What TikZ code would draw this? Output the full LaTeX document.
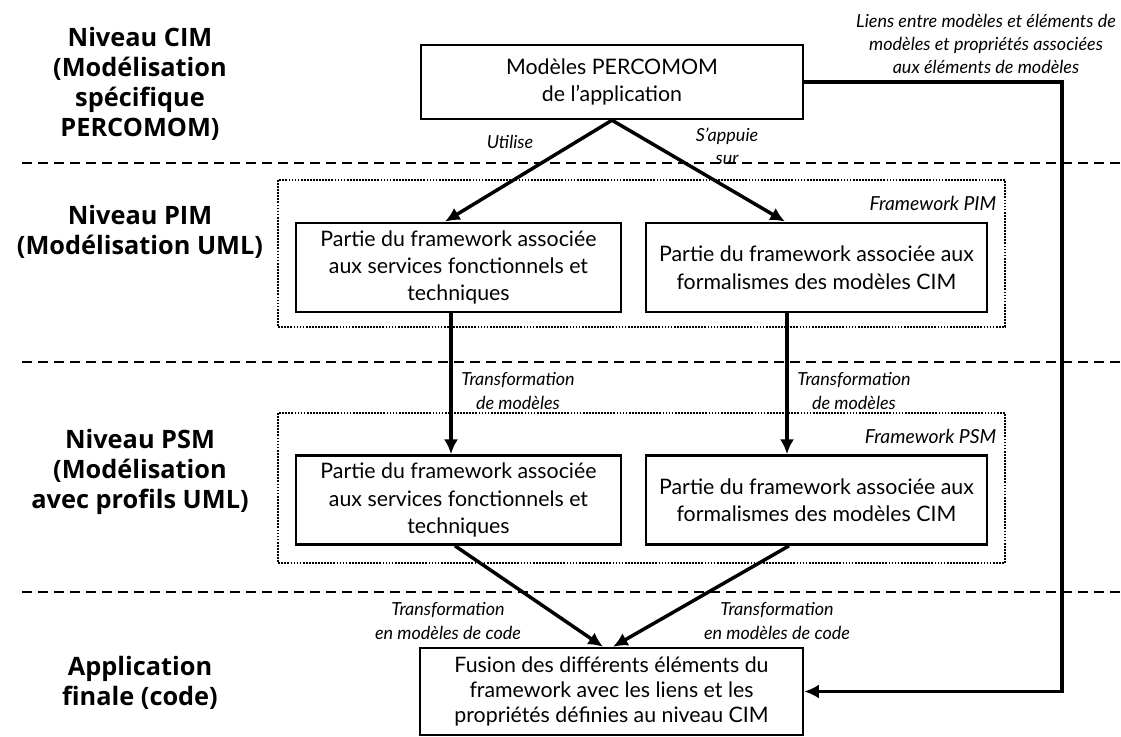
\documentclass[tikz,border=0pt]{standalone}
\usepackage{fontspec}
\setmainfont{Lato}
\newfontfamily\levelfont{Open Sans}
\usetikzlibrary{arrows.meta, calc}
\tikzset{
  levelbox/.style={
    rectangle,
    draw=black,
    line width=1.8pt,
    align=center,
    inner sep=0pt,
    font=\fontsize{16}{20.6}\selectfont
  },
  cimbox/.style={levelbox, minimum width=286.5pt, minimum height=55.5pt},
  leftbox/.style={levelbox, minimum width=243.75pt, minimum height=67pt},
  rightbox/.style={levelbox, minimum width=255.75pt, minimum height=67pt},
  codebox/.style={levelbox, minimum width=287.25pt, minimum height=65.25pt, font=\fontsize{16}{18.9}\selectfont},
  levelname/.style={font=\levelfont\fontsize{19}{22.5}\selectfont\bfseries, align=center},
  note/.style={font=\fontsize{13.5}{17.4}\selectfont\itshape, align=center},
  frametag/.style={font=\fontsize{14.5}{17}\selectfont\itshape, anchor=east},
  flow/.style={-{Latex[length=11pt, width=10.5pt]}, line width=2.6pt},
  separator/.style={dash pattern=on 7.5pt off 4.5pt, line width=2pt},
  dotframe/.style={densely dotted, line width=1.3pt}
}

\begin{document}
\begin{tikzpicture}[x=0.75pt, y=-0.75pt]
\useasboundingbox (0,0) rectangle (1121,737);

% Level names.
\node[levelname] (cimname) at (140,84) {Niveau CIM\\(Modélisation\\spécifique\\PERCOMOM)};
\node[levelname] (pimname) at (140,232) {Niveau PIM\\(Modélisation UML)};
\node[levelname] (psmname) at (140,472) {Niveau PSM\\(Modélisation\\avec profils UML)};
\node[levelname] (appname) at (140,683) {Application\\finale (code)};

% Level separators.
\draw[separator] (22,163) -- (1121,163);
\draw[separator] (22,362) -- (1121,362);
\draw[separator] (22,592) -- (1121,592);

% Framework frames.
\draw[dotframe] (278,180) rectangle (1005,327);
\draw[dotframe] (278,413) rectangle (1005,563);
\node[frametag] (pimtag) at (1001,203) {Framework PIM};
\node[frametag] (psmtag) at (1001,436) {Framework PSM};

% CIM level.
\node[cimbox] (cim) at (612,82) {Modèles PERCOMOM\\de l’application};
\node[note] (links) at (986,44) {Liens entre modèles et éléments de\\modèles et propriétés associées\\aux éléments de modèles};

% PIM level.
\node[leftbox] (pimL) at (458.5,267.5) {Partie du framework associée\\aux services fonctionnels et\\techniques};
\node[rightbox] (pimR) at (816.5,267.5) {Partie du framework associée aux\\formalismes des modèles CIM};

% PSM level.
\node[leftbox] (psmL) at (458.5,500) {Partie du framework associée\\aux services fonctionnels et\\techniques};
\node[rightbox] (psmR) at (816.5,500) {Partie du framework associée aux\\formalismes des modèles CIM};

% Code level.
\node[codebox] (code) at (611.5,691.5) {Fusion des différents éléments du\\framework avec les liens et les\\propriétés définies au niveau CIM};

% Flow labels.
\node[note] (uses) at (510,142) {Utilise};
\node[note] (relies) at (727,146) {S’appuie\\sur};
\node[note] (transL) at (518,391) {Transformation\\de modèles};
\node[note] (transR) at (854,391) {Transformation\\de modèles};
\node[note] (genL) at (448,621) {Transformation\\en modèles de code};
\node[note] (genR) at (777,621) {Transformation\\en modèles de code};

% Main flow.
\draw[flow] (cim.south) -- ($(pimL.north)+(-13.5,0)$);
\draw[flow] (cim.south) -- ($(pimR.north)+(-31.5,0)$);
\draw[flow] ($(pimL.south)+(-7.5,0)$) -- ($(psmL.north)+(-7.5,0)$);
\draw[flow] ($(pimR.south)+(-29.5,0)$) -- ($(psmR.north)+(-29.5,0)$);
\draw[flow] ($(psmL.south)+(-3.5,0)$) -- ($(code.north)+(-8.5,0)$);
\draw[flow] ($(psmR.south)+(-27.5,0)$) -- ($(code.north)+(1.5,0)$);

% Links kept until the code level.
\coordinate (bend) at (1062,82);
\draw[flow] (cim.east) -- (bend) |- (code.east);

\end{tikzpicture}
\end{document}
